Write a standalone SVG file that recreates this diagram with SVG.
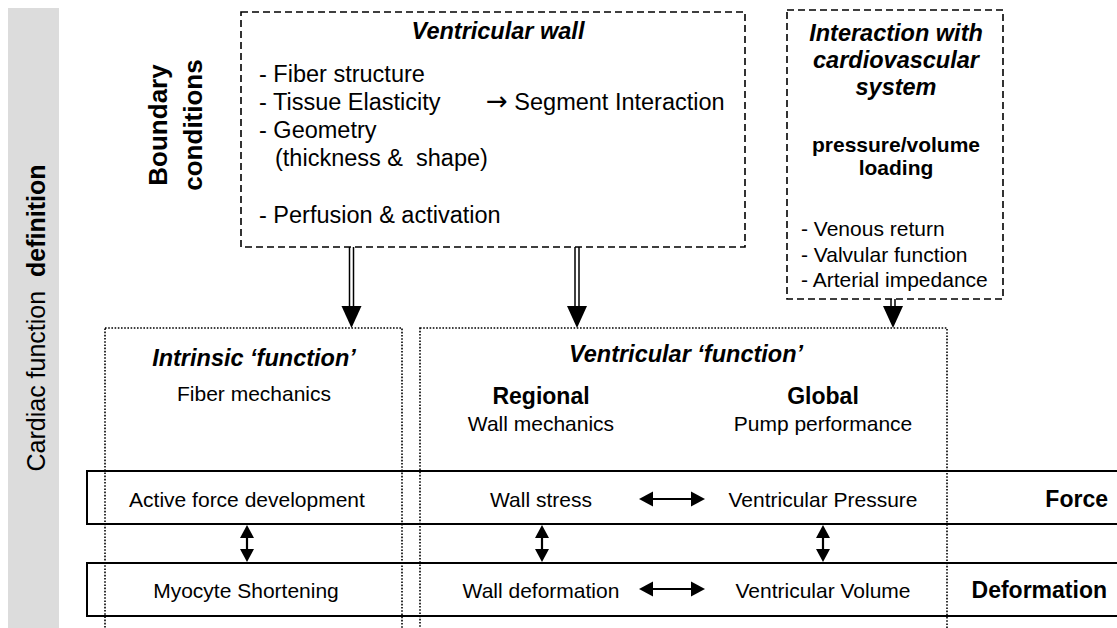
<svg xmlns="http://www.w3.org/2000/svg" width="1117" height="628" viewBox="0 0 1117 628">
<style>
text{font-family:"Liberation Sans",Arial,sans-serif;fill:#000}
.n{font-size:21px}
.b{font-size:23px;font-weight:bold}
.bi{font-size:23.5px;font-weight:bold;font-style:italic}
.l{font-size:23.5px}
.bs{font-size:21px;font-weight:bold}
.m{text-anchor:middle}
.dash{fill:none;stroke:#000;stroke-width:1.6;stroke-dasharray:7 4}
.dot{fill:none;stroke:#000;stroke-width:1.6;stroke-dasharray:1.6 1.6}
.row{fill:none;stroke:#000;stroke-width:2}
.ln{stroke:#000;stroke-width:1.5;fill:none}
.ar{stroke:#000;stroke-width:2.2;fill:none}
.hd{fill:#000}
</style>
<g id="sidebar">
<rect x="8" y="8" width="51" height="625" fill="#dcdcdc"/>
<text class="m" transform="translate(45,318) rotate(-90)" style="font-size:25px" xml:space="preserve">Cardiac function  <tspan font-weight="bold">definition</tspan></text>
</g>
<g id="boundary">
<text class="m" transform="translate(167,125) rotate(-90)" style="font-size:26px;font-weight:bold">Boundary</text>
<text class="m" transform="translate(202,125) rotate(-90)" style="font-size:26px;font-weight:bold">conditions</text>
</g>
<g id="ventricular-wall">
<rect class="dash" x="241" y="12" width="504" height="235"/>
<text class="bi m" x="498" y="39">Ventricular wall</text>
<text class="l" x="259" y="82">- Fiber structure</text>
<text class="l" x="259" y="110">- Tissue Elasticity</text>
<text class="l" x="486" y="110"><tspan style="font-family:'DejaVu Sans',sans-serif;font-size:26px">→</tspan> Segment Interaction</text>
<text class="l" x="259" y="138">- Geometry</text>
<text class="l" x="275" y="166" xml:space="preserve">(thickness &amp;  shape)</text>
<text class="l" x="259" y="223">- Perfusion &amp; activation</text>
</g>
<g id="interaction">
<rect class="dash" x="787" y="10" width="216" height="289"/>
<text class="bi m" x="896" y="41">Interaction with</text>
<text class="bi m" x="896" y="68">cardiovascular</text>
<text class="bi m" x="896" y="95">system</text>
<text class="bs m" x="896" y="152">pressure/volume</text>
<text class="bs m" x="896" y="175">loading</text>
<text class="n" x="801" y="236">- Venous return</text>
<text class="n" x="801" y="262">- Valvular function</text>
<text class="n" x="801" y="287">- Arterial impedance</text>
</g>
<g id="intrinsic">
<rect class="dot" x="105" y="328" width="297" height="320"/>
<text class="bi m" x="254" y="366">Intrinsic ‘function’</text>
<text class="n m" x="254" y="401">Fiber mechanics</text>
</g>
<g id="ventricular-function">
<rect class="dot" x="420" y="328" width="527" height="320"/>
<text class="bi m" x="686" y="362">Ventricular ‘function’</text>
<text class="b m" x="541" y="404">Regional</text>
<text class="n m" x="541" y="431">Wall mechanics</text>
<text class="b m" x="823" y="404">Global</text>
<text class="n m" x="823" y="431">Pump performance</text>
</g>
<g id="force-row">
<rect class="row" x="87" y="471" width="1040" height="53"/>
<text class="n m" x="247" y="507">Active force development</text>
<text class="n m" x="541" y="507">Wall stress</text>
<text class="n m" x="823" y="507">Ventricular Pressure</text>
<text class="b" x="1108" y="507" text-anchor="end">Force</text>
</g>
<g id="deformation-row">
<rect class="row" x="87" y="563" width="1040" height="53"/>
<text class="n m" x="246" y="598">Myocyte Shortening</text>
<text class="n m" x="541" y="598">Wall deformation</text>
<text class="n m" x="823" y="598">Ventricular Volume</text>
<text class="b" x="1107" y="598" text-anchor="end">Deformation</text>
</g>
<g id="connectors">
<line class="ln" x1="349.5" y1="247" x2="349.5" y2="307"/>
<line class="ln" x1="353.5" y1="247" x2="353.5" y2="307"/>
<polygon class="hd" points="341.5,306 361.5,306 351.5,328"/>
<line class="ln" x1="575" y1="247" x2="575" y2="307"/>
<line class="ln" x1="579" y1="247" x2="579" y2="307"/>
<polygon class="hd" points="567,306 587,306 577,328"/>
<line class="ln" x1="891" y1="299" x2="891" y2="307"/>
<line class="ln" x1="895" y1="299" x2="895" y2="307"/>
<polygon class="hd" points="883,306 903,306 893,328"/>
<line class="ar" x1="247" y1="532" x2="247" y2="555"/>
<polygon class="hd" points="247,525 240,538 254,538"/>
<polygon class="hd" points="247,562 240,549 254,549"/>
<line class="ar" x1="542" y1="532" x2="542" y2="555"/>
<polygon class="hd" points="542,525 535,538 549,538"/>
<polygon class="hd" points="542,562 535,549 549,549"/>
<line class="ar" x1="823" y1="532" x2="823" y2="555"/>
<polygon class="hd" points="823,525 816,538 830,538"/>
<polygon class="hd" points="823,562 816,549 830,549"/>
<line class="ar" x1="646" y1="499" x2="698" y2="499"/>
<polygon class="hd" points="639,499 653,491.5 653,506.5"/>
<polygon class="hd" points="705,499 691,491.5 691,506.5"/>
<line class="ar" x1="646" y1="589" x2="698" y2="589"/>
<polygon class="hd" points="639,589 653,581.5 653,596.5"/>
<polygon class="hd" points="705,589 691,581.5 691,596.5"/>
</g>
</svg>
